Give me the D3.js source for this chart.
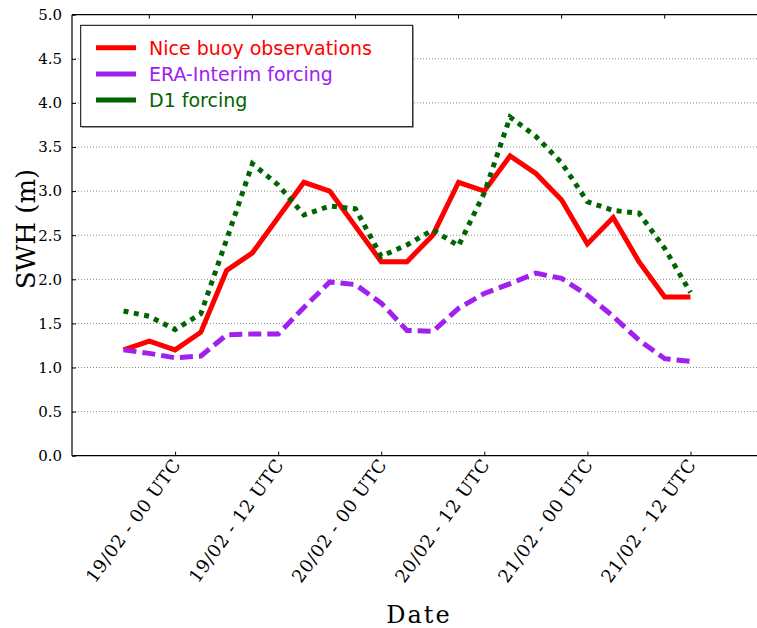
<!DOCTYPE html>
<html><head><meta charset="utf-8">
<script src="https://cdn.jsdelivr.net/npm/d3@7"></script>
<style>body{margin:0;background:#fff}svg{display:block}</style>
</head><body>
<svg id="c" width="757" height="628"></svg>
<script>
const times = ["2013-02-18T18:00Z","2013-02-18T21:00Z","2013-02-19T00:00Z","2013-02-19T03:00Z","2013-02-19T06:00Z","2013-02-19T09:00Z","2013-02-19T12:00Z","2013-02-19T15:00Z","2013-02-19T18:00Z","2013-02-19T21:00Z","2013-02-20T00:00Z","2013-02-20T03:00Z","2013-02-20T06:00Z","2013-02-20T09:00Z","2013-02-20T12:00Z","2013-02-20T15:00Z","2013-02-20T18:00Z","2013-02-20T21:00Z","2013-02-21T00:00Z","2013-02-21T03:00Z","2013-02-21T06:00Z","2013-02-21T09:00Z","2013-02-21T12:00Z"];
const buoy = [1.2,1.3,1.2,1.4,2.1,2.3,2.7,3.1,3.0,2.6,2.2,2.2,2.5,3.1,3.0,3.4,3.2,2.9,2.4,2.7,2.2,1.8,1.8];
const eraInterim = [1.2,1.16,1.11,1.13,1.37,1.38,1.38,1.68,1.97,1.94,1.73,1.42,1.41,1.67,1.84,1.95,2.07,2.01,1.82,1.58,1.31,1.10,1.07];
const d1 = [1.64,1.58,1.43,1.61,2.45,3.31,3.07,2.73,2.83,2.8,2.26,2.39,2.56,2.38,2.98,3.84,3.62,3.32,2.88,2.78,2.75,2.35,1.85];
const tickTimes = ["2013-02-19T00:00Z","2013-02-19T12:00Z","2013-02-20T00:00Z","2013-02-20T12:00Z","2013-02-21T00:00Z","2013-02-21T12:00Z"];
const tickLabels = ["19/02 - 00 UTC","19/02 - 12 UTC","20/02 - 00 UTC","20/02 - 12 UTC","21/02 - 00 UTC","21/02 - 12 UTC"];
const topTickTimes = ["2013-02-18T21:00Z","2013-02-19T09:00Z","2013-02-19T21:00Z","2013-02-20T09:00Z","2013-02-20T21:00Z","2013-02-21T09:00Z"];
const yTicks = [0,0.5,1,1.5,2,2.5,3,3.5,4,4.5,5];
const seriesNames = ["Nice buoy observations","ERA-Interim forcing","D1 forcing"];

const svg = d3.select("#c");
const L = 72, T = 14.7, B = 455.7;
const x = d3.scaleUtc().domain([new Date("2013-02-18T12:00Z"), new Date("2013-02-21T21:00Z")]).range([L, L + 27*25.77]);
const y = d3.scaleLinear().domain([0,5]).range([B, T]);
const R = x.range()[1];

// grid
svg.append("g").selectAll("line").data(yTicks.filter(v=>v>0 && v<5)).join("line")
  .attr("x1", L).attr("x2", R).attr("y1", d=>y(d)).attr("y2", d=>y(d))
  .attr("stroke","#888").attr("stroke-width",1).attr("stroke-dasharray","1,2");

// y axis
const yAxis = d3.axisLeft(y).tickValues(yTicks).tickFormat(d3.format(".1f")).tickSize(-4).tickPadding(10);
const gy = svg.append("g").attr("transform",`translate(${L},0)`).call(yAxis);
gy.select(".domain").remove();
gy.selectAll("line").attr("stroke","#000");
gy.selectAll("text").attr("font-family","DejaVu Serif").attr("font-size","15px").attr("fill","#000");

// x axis bottom
const xAxis = d3.axisBottom(x).tickValues(tickTimes.map(t=>new Date(t))).tickSize(-4).tickFormat((d,i)=>tickLabels[i]);
const gx = svg.append("g").attr("transform",`translate(0,${B})`).call(xAxis);
gx.select(".domain").remove();
gx.selectAll("line").attr("stroke","#000");
gx.selectAll("text").attr("font-family","DejaVu Serif").attr("font-size","18px").attr("fill","#000")
  .attr("letter-spacing","0.6px")
  .attr("text-anchor","end").attr("dy",null).attr("y",null)
  .attr("transform","translate(6,9) rotate(-54)");

// top ticks
svg.append("g").selectAll("line").data(topTickTimes.map(t=>new Date(t))).join("line")
  .attr("x1",d=>x(d)).attr("x2",d=>x(d)).attr("y1",T).attr("y2",T+4).attr("stroke","#000");

// spines
svg.append("line").attr("x1",L).attr("x2",L).attr("y1",T).attr("y2",B).attr("stroke","#000").attr("stroke-width",1.2);
svg.append("line").attr("x1",L).attr("x2",R).attr("y1",T).attr("y2",T).attr("stroke","#000").attr("stroke-width",1.2);
svg.append("line").attr("x1",L).attr("x2",R).attr("y1",B).attr("y2",B).attr("stroke","#000").attr("stroke-width",1.2);

// lines
const line = d3.line().x((d,i)=>x(new Date(times[i]))).y(d=>y(d));
const styles = [
  {data: buoy, color:"#ff0000", dash:null},
  {data: eraInterim, color:"#a020f0", dash:"13,6"},
  {data: d1, color:"#006400", dash:"5,5.5"}
];
styles.forEach(s=>{
  svg.append("path").datum(s.data).attr("d",line).attr("fill","none")
    .attr("stroke",s.color).attr("stroke-width",5).attr("stroke-dasharray",s.dash);
});

// legend
const lg = svg.append("g");
lg.append("rect").attr("x",82).attr("y",26.5).attr("width",332).attr("height",101.4).attr("fill","#bbb");
lg.append("rect").attr("x",80.7).attr("y",25.3).attr("width",332).attr("height",101.4).attr("fill","#fff").attr("stroke","#000").attr("stroke-width",1);
styles.forEach((s,i)=>{
  const yy = 47.7 + i*26.2;
  lg.append("line").attr("x1",96).attr("x2",136).attr("y1",yy).attr("y2",yy).attr("stroke",s.color).attr("stroke-width",5);
  lg.append("text").attr("x",149).attr("y",yy+7).attr("font-family","DejaVu Sans").attr("font-size","19px").attr("fill",s.color).text(seriesNames[i]);
});

// axis titles
svg.append("text").attr("transform","translate(35,229) rotate(-90)").attr("text-anchor","middle")
  .attr("font-family","DejaVu Serif").attr("font-size","26px").text("SWH (m)");
svg.append("text").attr("x",419).attr("y",623).attr("text-anchor","middle")
  .attr("font-family","DejaVu Serif").attr("font-size","24px").attr("letter-spacing","2px").text("Date");
</script>
</body></html>
